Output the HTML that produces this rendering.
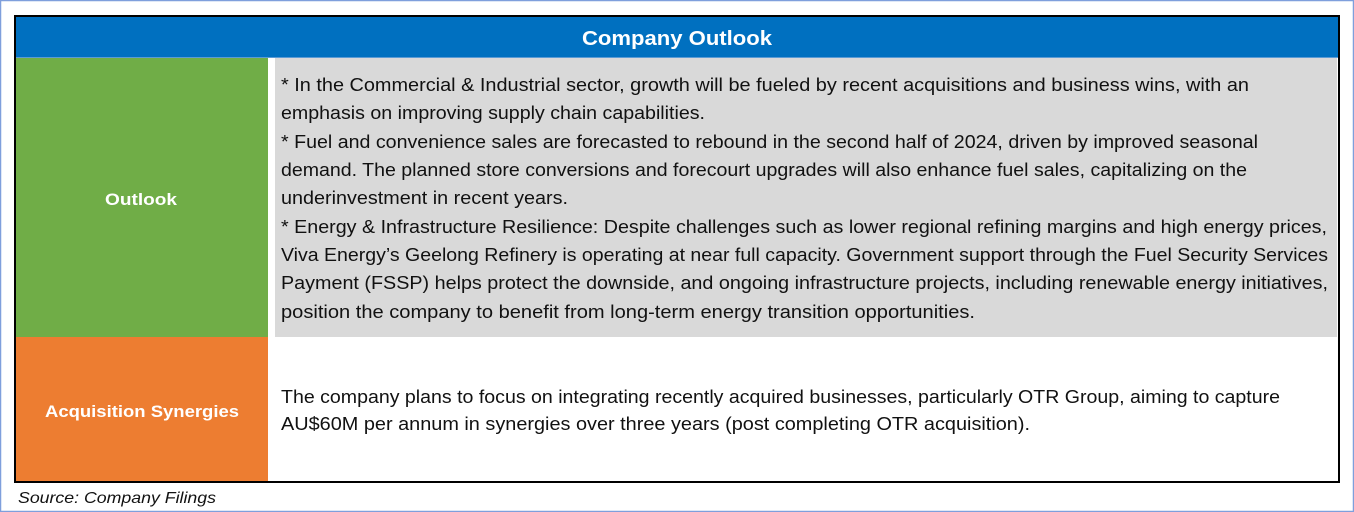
<!DOCTYPE html>
<html><head><meta charset="utf-8"><style>html,body{margin:0;padding:0;background:#fff}svg{display:block}</style></head>
<body>
<svg width="1354" height="512" viewBox="0 0 1354 512" xmlns="http://www.w3.org/2000/svg" font-family="Liberation Sans, sans-serif">
<rect x="0.5" y="0.5" width="1353" height="511" fill="#fff" stroke="#7f9fdc" stroke-width="1.5"/>
<rect x="15" y="16" width="1324" height="466" fill="#fff" stroke="#000" stroke-width="2"/>
<rect x="16" y="17" width="1322" height="40" fill="#0070c0"/>
<rect x="16" y="57" width="1322" height="1" fill="#5b9bd5"/>
<rect x="16" y="58" width="252" height="279" fill="#70ad47"/>
<rect x="275" y="58" width="1062" height="279" fill="#d9d9d9"/>
<rect x="16" y="337" width="252" height="144" fill="#ed7d31"/>
<g fill="#fff" font-weight="bold">
<text x="677" y="45" font-size="20" text-anchor="middle" textLength="190" lengthAdjust="spacingAndGlyphs">Company Outlook</text>
<text x="141" y="205" font-size="17" text-anchor="middle" textLength="72" lengthAdjust="spacingAndGlyphs">Outlook</text>
<text x="142" y="417" font-size="17" text-anchor="middle" textLength="194" lengthAdjust="spacingAndGlyphs">Acquisition Synergies</text>
</g>
<g fill="#111" font-size="18.5">
<text x="281" y="91" textLength="968" lengthAdjust="spacingAndGlyphs">* In the Commercial &amp; Industrial sector, growth will be fueled by recent acquisitions and business wins, with an</text>
<text x="281" y="119" textLength="424" lengthAdjust="spacingAndGlyphs">emphasis on improving supply chain capabilities.</text>
<text x="281" y="148" textLength="977" lengthAdjust="spacingAndGlyphs">* Fuel and convenience sales are forecasted to rebound in the second half of 2024, driven by improved seasonal</text>
<text x="281" y="176" textLength="966" lengthAdjust="spacingAndGlyphs">demand. The planned store conversions and forecourt upgrades will also enhance fuel sales, capitalizing on the</text>
<text x="281" y="204" textLength="287" lengthAdjust="spacingAndGlyphs">underinvestment in recent years.</text>
<text x="281" y="233" textLength="1046" lengthAdjust="spacingAndGlyphs">* Energy &amp; Infrastructure Resilience: Despite challenges such as lower regional refining margins and high energy prices,</text>
<text x="281" y="261" textLength="1047" lengthAdjust="spacingAndGlyphs">Viva Energy’s Geelong Refinery is operating at near full capacity. Government support through the Fuel Security Services</text>
<text x="281" y="289" textLength="1047" lengthAdjust="spacingAndGlyphs">Payment (FSSP) helps protect the downside, and ongoing infrastructure projects, including renewable energy initiatives,</text>
<text x="281" y="318" textLength="694" lengthAdjust="spacingAndGlyphs">position the company to benefit from long-term energy transition opportunities.</text>
<text x="281" y="403" textLength="999" lengthAdjust="spacingAndGlyphs">The company plans to focus on integrating recently acquired businesses, particularly OTR Group, aiming to capture</text>
<text x="281" y="430" textLength="749" lengthAdjust="spacingAndGlyphs">AU$60M per annum in synergies over three years (post completing OTR acquisition).</text>
</g>
<text x="18" y="503" font-size="16" font-style="italic" fill="#111" textLength="198" lengthAdjust="spacingAndGlyphs">Source: Company Filings</text>
</svg>
</body></html>
